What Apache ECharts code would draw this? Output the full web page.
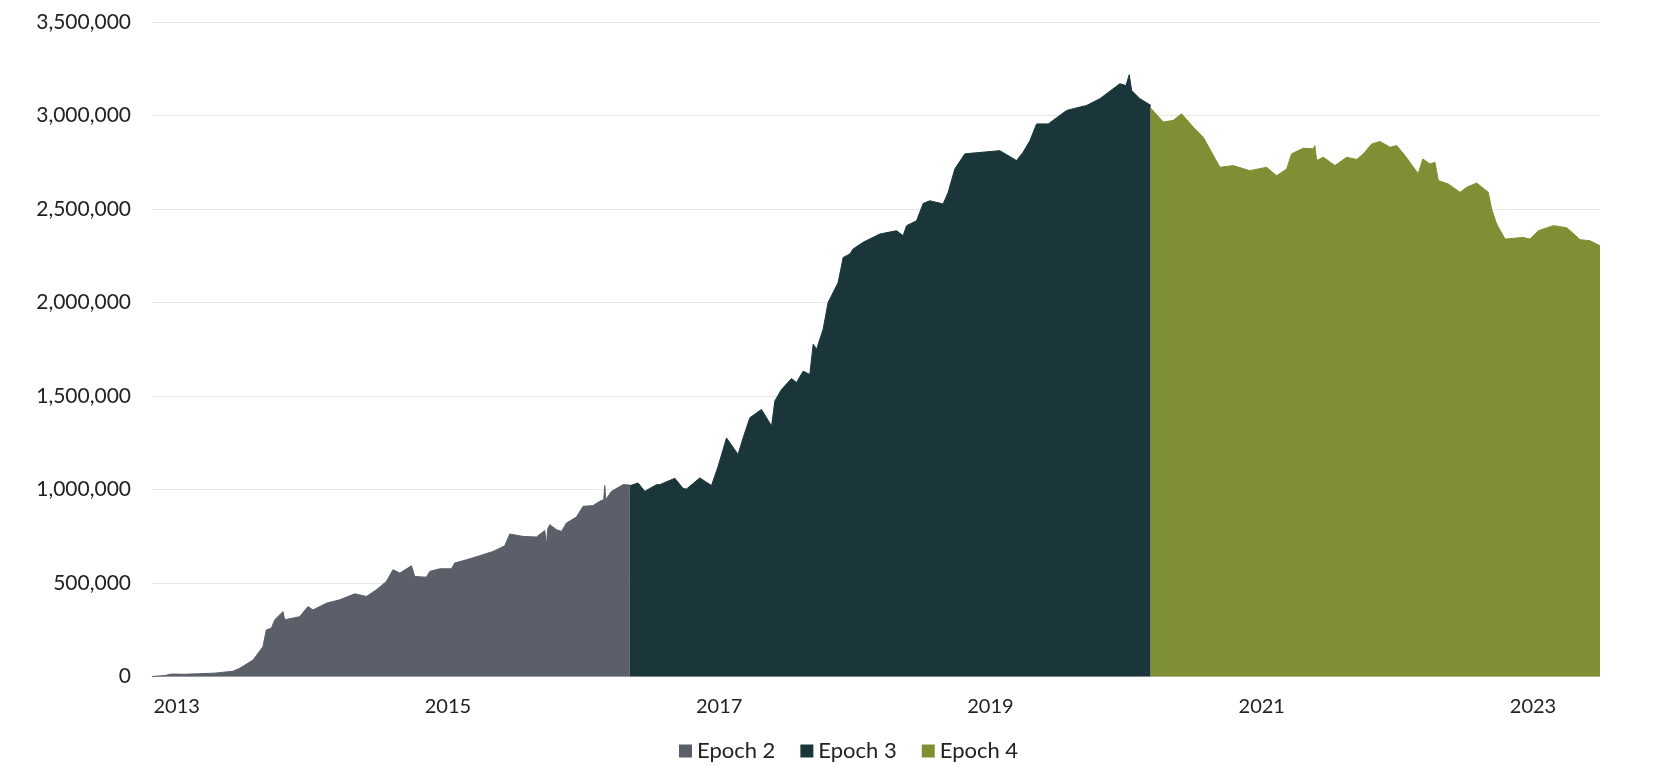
<!DOCTYPE html>
<html>
<head>
<meta charset="UTF-8">
<title>Epochs</title>
<style>
  html, body { margin: 0; padding: 0; background: #fff; }
  #main { width: 1658px; height: 782px; }
</style>
</head>
<body>
<div id="main"></div>
<script src="https://cdn.jsdelivr.net/npm/echarts@6/dist/echarts.min.js"></script>
<script>
// x values are decimal years
var epoch2X = [2012.818, 2012.912, 2012.961, 2013.059, 2013.170, 2013.280, 2013.415, 2013.465, 2013.563, 2013.636,
  2013.661, 2013.698, 2013.723, 2013.784, 2013.796, 2013.907, 2013.968, 2014.005, 2014.104, 2014.202,
  2014.313, 2014.399, 2014.473, 2014.546, 2014.595, 2014.645, 2014.731, 2014.755, 2014.841, 2014.866,
  2014.940, 2015.026, 2015.050, 2015.136, 2015.235, 2015.333, 2015.419, 2015.456, 2015.554, 2015.653,
  2015.714, 2015.726, 2015.736, 2015.751, 2015.800, 2015.837, 2015.874, 2015.948, 2015.996, 2016.070,
  2016.119, 2016.149, 2016.156, 2016.164, 2016.206, 2016.291, 2016.341];
var epoch2Y = [0, 5000, 13000, 12000, 15000, 18000, 28000, 44000, 88000, 160000,
  249000, 258000, 303000, 347000, 303000, 320000, 374000, 356000, 392000, 410000,
  442000, 428000, 464000, 508000, 571000, 553000, 592000, 535000, 531000, 562000,
  576000, 576000, 607000, 624000, 646000, 669000, 699000, 762000, 749000, 746000,
  781000, 705000, 790000, 812000, 785000, 776000, 821000, 853000, 910000, 914000,
  937000, 946000, 1021000, 946000, 990000, 1026000, 1024000];

var epoch3X = [2016.341, 2016.402, 2016.451, 2016.538, 2016.562, 2016.673, 2016.734, 2016.759, 2016.857, 2016.943,
  2016.992, 2017.054, 2017.139, 2017.176, 2017.226, 2017.312, 2017.386, 2017.410, 2017.459, 2017.533,
  2017.570, 2017.619, 2017.668, 2017.693, 2017.718, 2017.766, 2017.803, 2017.877, 2017.914, 2017.963,
  2017.987, 2018.061, 2018.184, 2018.307, 2018.356, 2018.381, 2018.455, 2018.504, 2018.553, 2018.651,
  2018.688, 2018.737, 2018.811, 2019.069, 2019.192, 2019.241, 2019.291, 2019.340, 2019.426, 2019.561,
  2019.709, 2019.807, 2019.954, 2019.999, 2020.023, 2020.041, 2020.102, 2020.181];
var epoch3Y = [1020000, 1035000, 990000, 1026000, 1026000, 1060000, 1005000, 1003000, 1062000, 1021000,
  1124000, 1276000, 1187000, 1276000, 1384000, 1428000, 1339000, 1473000, 1535000, 1593000,
  1572000, 1633000, 1615000, 1777000, 1750000, 1857000, 2000000, 2107000, 2241000, 2259000,
  2286000, 2322000, 2366000, 2384000, 2357000, 2411000, 2437000, 2530000, 2544000, 2527000,
  2589000, 2714000, 2795000, 2812000, 2759000, 2804000, 2866000, 2955000, 2955000, 3027000,
  3054000, 3090000, 3170000, 3160000, 3218000, 3134000, 3090000, 3055000];

var epoch4X = [2020.181, 2020.274, 2020.348, 2020.409, 2020.495, 2020.569, 2020.692, 2020.790, 2020.913, 2021.036,
  2021.110, 2021.184, 2021.220, 2021.306, 2021.380, 2021.392, 2021.405, 2021.454, 2021.540, 2021.626,
  2021.700, 2021.749, 2021.811, 2021.872, 2021.946, 2021.995, 2022.056, 2022.154, 2022.187, 2022.240,
  2022.277, 2022.302, 2022.375, 2022.462, 2022.511, 2022.585, 2022.670, 2022.695, 2022.732, 2022.794,
  2022.929, 2022.978, 2023.040, 2023.150, 2023.249, 2023.348, 2023.421, 2023.494];
var epoch4Y = [3040000, 2965000, 2974000, 3009000, 2938000, 2884000, 2723000, 2732000, 2705000, 2723000,
  2678000, 2714000, 2795000, 2825000, 2822000, 2839000, 2759000, 2777000, 2732000, 2777000,
  2765000, 2795000, 2848000, 2861000, 2830000, 2839000, 2786000, 2688000, 2768000, 2741000,
  2750000, 2652000, 2634000, 2589000, 2616000, 2639000, 2589000, 2500000, 2420000, 2339000,
  2348000, 2339000, 2384000, 2411000, 2400000, 2336000, 2330000, 2303000];

var yearTicks = [2013, 2015, 2017, 2019, 2021, 2023];
var seriesNames = ['Epoch 2', 'Epoch 3', 'Epoch 4'];
var colors = ['#5a5f69', '#1a363b', '#7f8f34'];

function pairs(xs, ys) {
  return xs.map(function (x, i) { return [x, ys[i]]; });
}

var myChart = echarts.init(document.getElementById('main'));

var font = 'Lato, "Open Sans", sans-serif';

function areaSeries(i, data) {
  return {
    name: seriesNames[i],
    type: 'line',
    data: data,
    symbol: 'none',
    smooth: false,
    lineStyle: { width: 1, color: colors[i] },
    itemStyle: { color: colors[i] },
    areaStyle: { color: colors[i], opacity: 1 },
    emphasis: { disabled: true },
    animation: false
  };
}

var option = {
  animation: false,
  grid: { left: 152, right: 58, top: 22, bottom: 105.5 },
  legend: {
    data: seriesNames,
    left: 674,
    top: 735,
    icon: 'rect',
    itemWidth: 13,
    itemHeight: 13,
    itemGap: 25,
    textStyle: { fontFamily: font, fontSize: 22, color: '#222' }
  },
  xAxis: {
    type: 'value',
    min: 2012.818,
    max: 2023.494,
    axisLine: { show: true, lineStyle: { color: '#d9d9d9' } },
    axisTick: { show: false },
    splitLine: { show: false },
    axisLabel: {
      customValues: yearTicks,
      formatter: function (v) { return String(Math.round(v)); },
      fontFamily: font,
      fontSize: 20,
      color: '#222',
      margin: 20
    }
  },
  yAxis: {
    type: 'value',
    min: 0,
    max: 3500000,
    interval: 500000,
    axisLine: { show: false },
    axisTick: { show: false },
    splitLine: { lineStyle: { color: '#e6e6e6', width: 1 } },
    axisLabel: {
      formatter: function (v) { return v.toLocaleString('en-US'); },
      fontFamily: font,
      fontSize: 21,
      color: '#222',
      margin: 21
    }
  },
  series: [
    areaSeries(0, pairs(epoch2X, epoch2Y)),
    areaSeries(1, pairs(epoch3X, epoch3Y)),
    areaSeries(2, pairs(epoch4X, epoch4Y))
  ]
};

myChart.setOption(option);
</script>
</body>
</html>
